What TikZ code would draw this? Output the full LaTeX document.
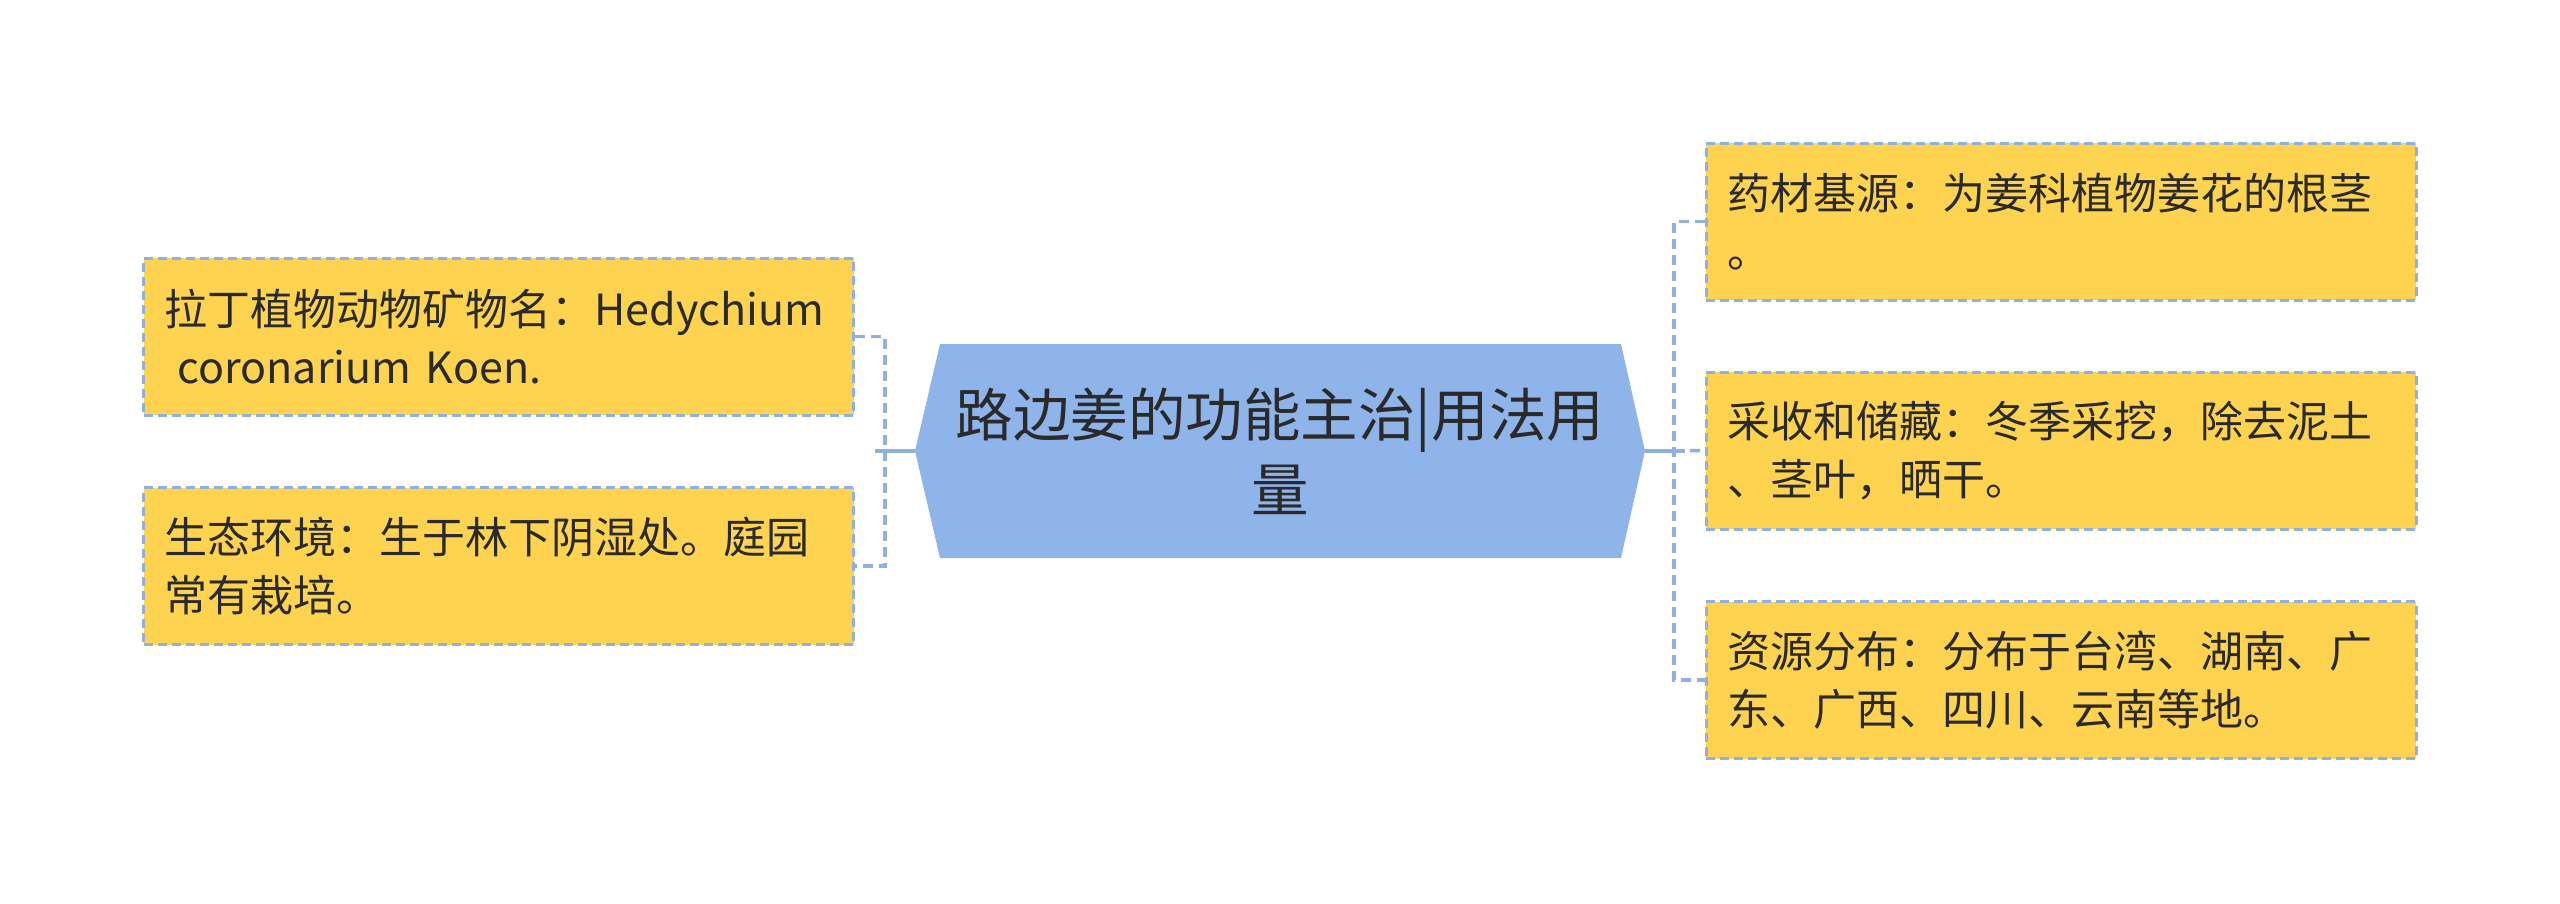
\documentclass[tikz,border=0pt]{standalone}
\usepackage{fontspec}
\setmainfont{Noto Sans CJK SC}
\usetikzlibrary{calc}
\definecolor{hexblue}{HTML}{8EB4EA}
\definecolor{boxyellow}{HTML}{FDD34F}
\definecolor{connblue}{HTML}{8FB0E3}
\definecolor{txt}{HTML}{2A2A2A}
\tikzset{
  leafbox/.style={draw=connblue, line width=3pt, dash pattern=on 9pt off 5pt, fill=boxyellow,
    minimum width=710pt, minimum height=157pt, text width=668pt, inner xsep=21pt, inner ysep=0pt,
    align=left, text=txt, font=\fontsize{43pt}{58pt}\selectfont},
  conn/.style={draw=connblue, line width=3.5pt, dash pattern=on 10pt off 6pt},
  solidconn/.style={draw=connblue, line width=3.5pt},
  centertext/.style={text=txt, align=center, font=\fontsize{57.5pt}{75pt}\selectfont, inner sep=0pt}
}
\begin{document}
\begin{tikzpicture}[x=1pt,y=-1pt]
\useasboundingbox (0,0) rectangle (2560,903);
% central hexagon
\coordinate (hexL) at (915,451);
\coordinate (hexR) at (1645,451);
\fill[hexblue] (hexL) -- (940,344) -- (1621,344) -- (hexR) -- (1621,558) -- (940,558) -- cycle;
\node[centertext] (C) at (1280,451) {路边姜的功能主治|用法用\\量};
% left boxes
\node[leafbox] (L1) at (498.5,336.5) {拉丁植物动物矿物名：Hedychium\\\hspace*{0.3em}coronarium Koen.};
\node[leafbox] (L2) at (498.5,566) {生态环境：生于林下阴湿处。庭园\\常有栽培。};
% right boxes
\node[leafbox] (R1) at (2061,221.5) {药材基源：为姜科植物姜花的根茎\\。};
\node[leafbox] (R2) at (2061,450.5) {采收和储藏：冬季采挖，除去泥土\\、茎叶，晒干。};
\node[leafbox] (R3) at (2061,680) {资源分布：分布于台湾、湖南、广\\东、广西、四川、云南等地。};
% connectors
\coordinate (lx) at (885,451);
\coordinate (rx) at (1674,451);
\draw[conn] (L1.east) -| (lx) |- (L2.east);
\draw[solidconn] (hexL) -- ($(lx)+(-10,0)$);
\draw[conn] (R1.west) -| (rx) |- (R3.west);
\draw[conn] (rx) -- (R2.west);
\draw[solidconn] (hexR) -- ($(rx)+(11,0)$);
\end{tikzpicture}
\end{document}
